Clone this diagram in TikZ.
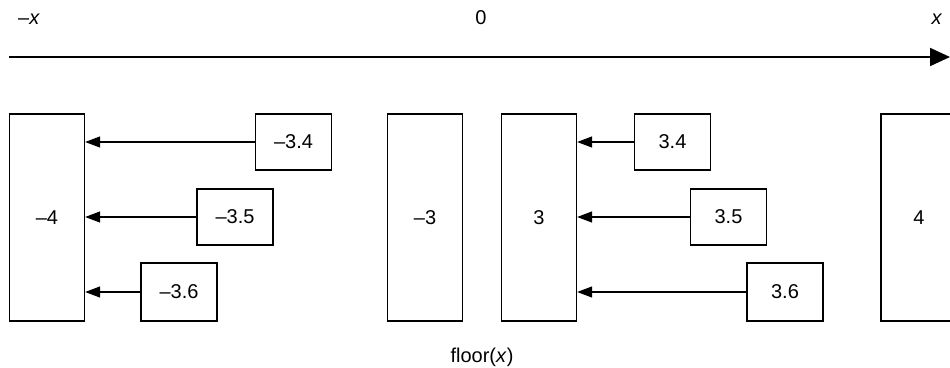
\documentclass[tikz,border=0pt]{standalone}
\usepackage{fontspec}
\setmainfont{Liberation Sans}
\usetikzlibrary{arrows.meta}
\begin{document}
\begin{tikzpicture}[x=1pt,y=-1pt,
  every node/.style={font=\fontsize{20}{24}\selectfont, inner sep=0pt},
  bigbox/.style={draw, line width=1.3pt, minimum width=75pt, minimum height=207pt},
  smallbox/.style={draw, line width=1.3pt, minimum width=76pt, minimum height=56pt},
  arr/.style={line width=1.3pt, -{Triangle[length=15pt,width=11pt]}},
  axisarr/.style={line width=1.8pt, -{Triangle[length=20pt,width=18pt]}}
]
\useasboundingbox (0,0) rectangle (950,367);
% axis
\coordinate (axL) at (9,57);
\coordinate (axR) at (950,57);
\draw[axisarr] (axL) -- (axR);
\node (lmx) at (29,19) {–\textit{x}};
\node (l0) at (481,18) {0};
\node (lx) at (937,19) {\textit{x}};
% big boxes
\node[bigbox] (b4m) at (47,217.5) {–4};
\node[bigbox] (b3m) at (425,217.5) {–3};
\node[bigbox] (b3) at (539,217.5) {3};
\node[bigbox, minimum width=76pt] (b4) at (919,217.5) {4};
% small boxes
\node[smallbox] (sm34) at (293.5,142) {–3.4};
\node[smallbox] (sm35) at (235,217) {–3.5};
\node[smallbox, minimum height=58pt] (sm36) at (179,292) {–3.6};
\node[smallbox] (s34) at (672.5,142) {3.4};
\node[smallbox] (s35) at (728.5,217) {3.5};
\node[smallbox, minimum height=58pt] (s36) at (785,292) {3.6};
% arrows
\draw[arr] (sm34.west) -- (b4m.east |- sm34.west);
\draw[arr] (sm35.west) -- (b4m.east |- sm35.west);
\draw[arr] (sm36.west) -- (b4m.east |- sm36.west);
\draw[arr] (s34.west) -- (b3.east |- s34.west);
\draw[arr] (s35.west) -- (b3.east |- s35.west);
\draw[arr] (s36.west) -- (b3.east |- s36.west);
% caption
\node (cap) at (482,357) {floor(\textit{x})};
\end{tikzpicture}
\end{document}
